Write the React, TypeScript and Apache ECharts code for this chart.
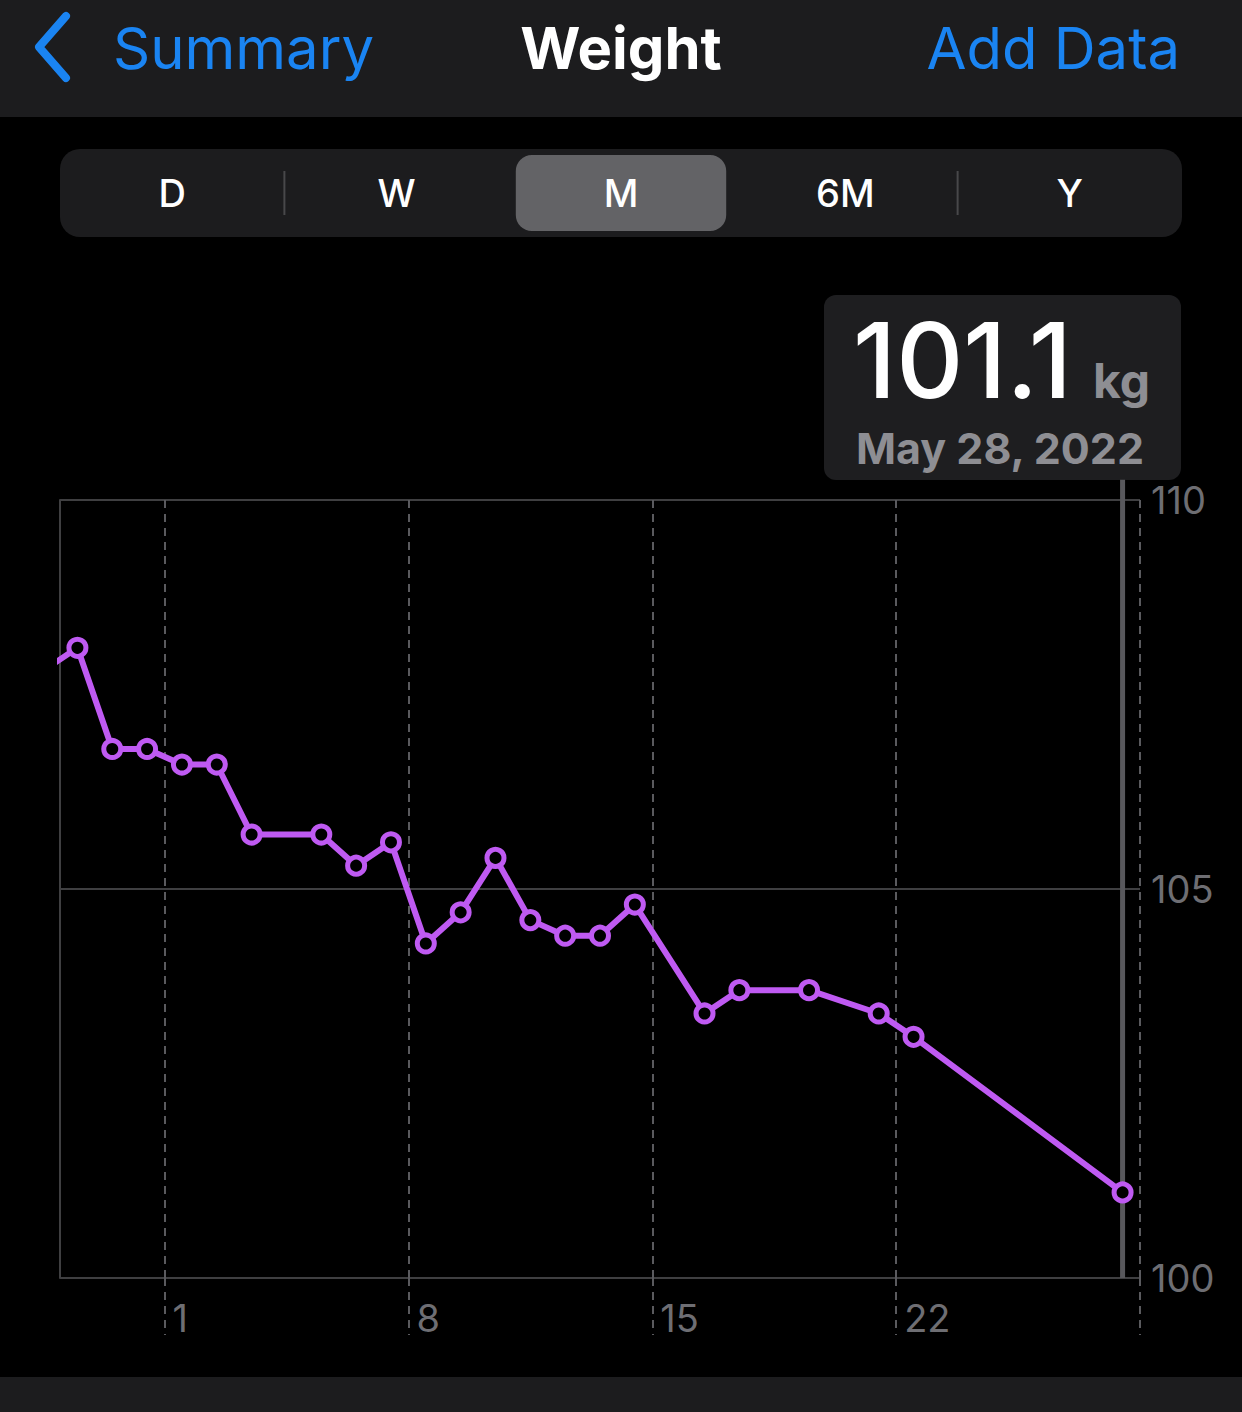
import React, { useEffect, useRef } from 'react';
import * as echarts from 'echarts';

// Day of May 2022 (0 = Apr 30, -1 = Apr 29 ...), one reading per day around midday
const readingDays = [-3, -2, -1, 0, 1, 2, 3, 5, 6, 7, 8, 9, 10, 11, 12, 13, 14, 16, 17, 19, 21, 22, 28];
const weightKg = [107.8, 108.1, 106.8, 106.8, 106.6, 106.6, 105.7, 105.7, 105.3, 105.6, 104.3, 104.7, 105.4, 104.6, 104.4, 104.4, 104.8, 103.4, 103.7, 103.7, 103.4, 103.1, 101.1];
const xTickDays = [1, 8, 15, 22, 29];
const xLabelDays = [1, 8, 15, 22];
const yMin = 100;
const yMax = 110;
const yStep = 5;
const segments = ['D', 'W', 'M', '6M', 'Y'];
const selectedSegment = 'M';
const selectedIndex = readingDays.length - 1;
const selectedDateLabel = 'May 28, 2022';
const unit = 'kg';

const PURPLE = '#bf5af2';
const BLUE = '#1a84f2';
const FONT = 'Inter, "Noto Sans", sans-serif';

export default function App() {
  const ref = useRef<HTMLDivElement>(null);
  useEffect(() => {
    document.body.style.margin = '0';
    document.body.style.background = '#000';
    if (!ref.current) return;
    const chart = echarts.init(ref.current, undefined, { renderer: 'svg' });

    const points = readingDays.map((d, i) => [d + 0.5, weightKg[i]]);
    const sel = points[selectedIndex];

    const segLeft = 60, segRight = 1182, segW = (segRight - segLeft) / segments.length;
    const selIdx = segments.indexOf(selectedSegment);
    const segGraphics: any[] = [
      { type: 'rect', shape: { x: segLeft, y: 149, width: segRight - segLeft, height: 88, r: 20 }, style: { fill: '#1c1c1e' } },
      { type: 'rect', shape: { x: segLeft + segW * selIdx + 7, y: 155, width: segW - 14, height: 76, r: 16 }, style: { fill: '#636366' } },
    ];
    for (let i = 1; i < segments.length; i++) {
      if (i === selIdx || i === selIdx + 1) continue;
      const x = segLeft + segW * i;
      segGraphics.push({ type: 'line', shape: { x1: x, y1: 171, x2: x, y2: 215 }, style: { stroke: '#48484a', lineWidth: 2 } });
    }
    segments.forEach((s, i) => {
      segGraphics.push({
        type: 'text', x: segLeft + segW * (i + 0.5), y: 193,
        style: { text: s, font: `500 38px ${FONT}`, fill: '#ffffff', align: 'center', textAlign: 'center', verticalAlign: 'middle', textVerticalAlign: 'middle' },
      });
    });

    const graphic: any[] = [
      { type: 'rect', shape: { x: 0, y: 0, width: 1242, height: 117 }, style: { fill: '#1c1c1e' } },
      { type: 'polyline', shape: { points: [[66, 16], [39, 47], [66, 78]] }, style: { stroke: BLUE, fill: null, lineWidth: 8, lineCap: 'round', lineJoin: 'round' } },
      { type: 'text', x: 113, y: 48, style: { text: 'Summary', font: `400 58px ${FONT}`, fill: BLUE, align: 'left', textAlign: 'left', verticalAlign: 'middle', textVerticalAlign: 'middle' } },
      { type: 'text', x: 621, y: 48, style: { text: 'Weight', font: `700 58px ${FONT}`, fill: '#ffffff', align: 'center', textAlign: 'center', verticalAlign: 'middle', textVerticalAlign: 'middle' } },
      { type: 'text', x: 1180, y: 48, style: { text: 'Add Data', font: `400 58px ${FONT}`, fill: BLUE, align: 'right', textAlign: 'right', verticalAlign: 'middle', textVerticalAlign: 'middle' } },
      ...segGraphics,
      { type: 'rect', shape: { x: 824, y: 295, width: 357, height: 185, r: 12 }, style: { fill: '#1e1e20' } },
      { type: 'text', x: 853, y: 360, style: { text: String(weightKg[selectedIndex]), font: `500 104px ${FONT}`, fill: '#ffffff', align: 'left', textAlign: 'left', verticalAlign: 'middle', textVerticalAlign: 'middle' } },
      { type: 'text', x: 1150, y: 380, style: { text: unit, font: `700 48px ${FONT}`, fill: '#8e8e93', align: 'right', textAlign: 'right', verticalAlign: 'middle', textVerticalAlign: 'middle' } },
      { type: 'text', x: 856, y: 448, style: { text: selectedDateLabel, font: `700 43px ${FONT}`, fill: '#8e8e93', align: 'left', textAlign: 'left', verticalAlign: 'middle', textVerticalAlign: 'middle' } },
      { type: 'rect', shape: { x: 0, y: 1377, width: 1242, height: 35 }, style: { fill: '#1c1c1e' } },
    ];

    chart.setOption({
      animation: false,
      backgroundColor: '#000000',
      graphic,
      grid: { left: 60, right: 102, top: 500, bottom: 134, containLabel: false, outerBoundsMode: 'none' },
      xAxis: {
        type: 'value',
        min: -2,
        max: 29,
        axisLine: { show: false },
        axisTick: {
          show: true,
          customValues: xTickDays,
          length: 57,
          lineStyle: { color: '#5a5a5e', width: 2, type: [8, 6] },
        },
        splitLine: { show: true, lineStyle: { color: '#5a5a5e', width: 2, type: [8, 6] } },
        axisLabel: {
          show: true,
          customValues: xLabelDays,
          formatter: (v: number) => String(v),
          color: '#6e6e73',
          fontSize: 38,
          fontFamily: FONT,
          align: 'left',
          verticalAlign: 'middle',
          margin: 40,
          padding: [0, 0, 0, 8],
        },
      },
      yAxis: [
        {
          type: 'value',
          position: 'right',
          min: yMin,
          max: yMax,
          interval: yStep,
          axisLine: { show: false },
          axisTick: { show: false },
          splitLine: { show: true, lineStyle: { color: '#3f3f41', width: 2, type: 'solid' } },
          axisLabel: { color: '#6e6e73', fontSize: 38, fontFamily: FONT, align: 'left', margin: 11 },
        },
        {
          type: 'value',
          position: 'left',
          min: yMin,
          max: yMax,
          interval: yStep,
          axisLine: { show: true, lineStyle: { color: '#3f3f41', width: 2 } },
          axisTick: { show: false },
          splitLine: { show: false },
          axisLabel: { show: false },
        },
      ],
      series: [
        {
          type: 'line',
          z: 1,
          clip: false,
          silent: true,
          symbol: 'none',
          data: [[sel[0], yMin], [sel[0], yMax + 0.26]],
          lineStyle: { color: '#58585c', width: 5 },
        },
        {
          type: 'line',
          z: 3,
          clip: true,
          silent: true,
          data: points,
          symbol: 'circle',
          symbolSize: 17,
          showAllSymbol: true,
          lineStyle: { color: PURPLE, width: 6 },
          itemStyle: { color: '#000000', borderColor: PURPLE, borderWidth: 5 },
        },
      ],
    });
    return () => chart.dispose();
  }, []);
  return <div ref={ref} style={{ width: 1242, height: 1412, background: '#000' }} />;
}
